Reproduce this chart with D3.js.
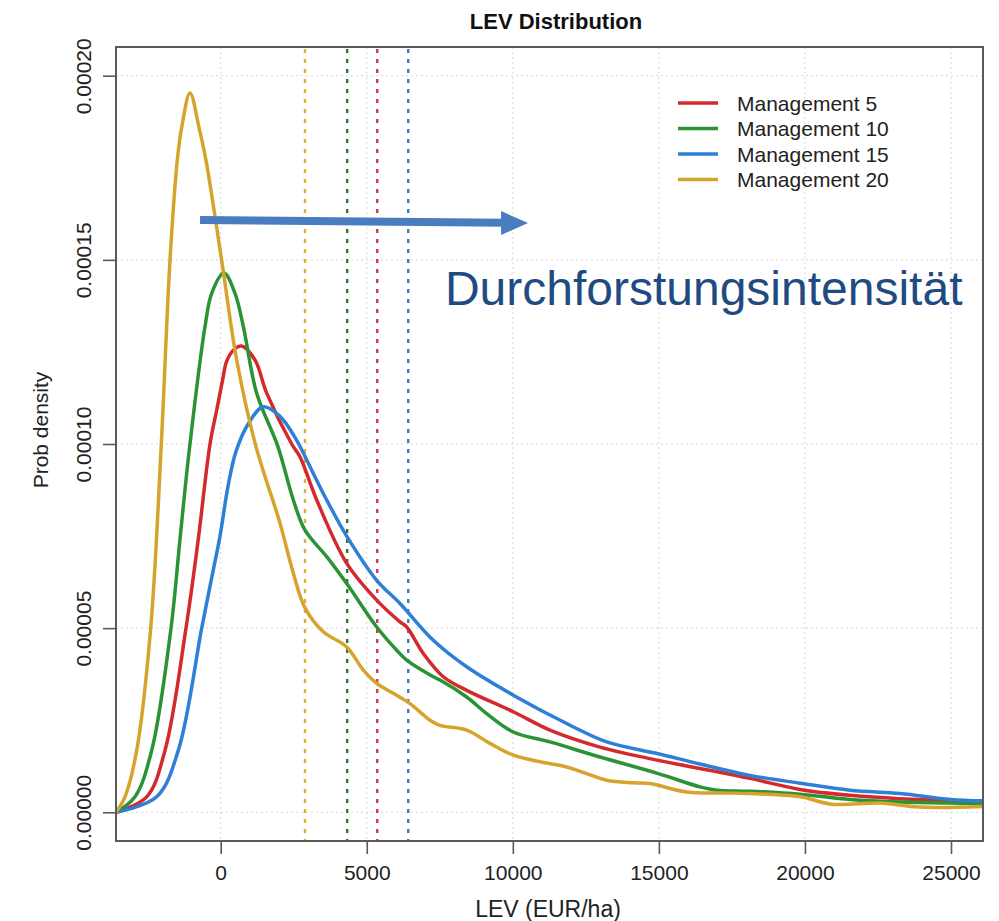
<!DOCTYPE html>
<html>
<head>
<meta charset="utf-8">
<script src="https://cdn.jsdelivr.net/npm/d3@7"></script>
<style>
  body { margin: 0; background: #fff; }
  svg { display: block; }
  text { font-family: "Liberation Sans", Arial, Helvetica, sans-serif; }
</style>
</head>
<body>
<svg id="chart" width="999" height="921"></svg>
<script>
// Density estimates of LEV (EUR/ha) per management variant; density in units of 1e-5
const DENSITY_UNIT = 1e-5;

const seriesNames = ["Management 5", "Management 10", "Management 15", "Management 20"];
const seriesColors = ["#d42a2e", "#2a9434", "#2f7fd6", "#d6a42c"];
const meanColors = ["#c93a55", "#2a7a34", "#3b78c2", "#dcae3c"];

const m5 = [[-3584,0],[-2533,0.42],[-1907,1.68],[-1188,5.0],[-767,7.42],[-366,10.0],[-137,10.92],[68,11.75],[205,12.25],[450,12.56],[718,12.66],[1174,12.28],[1575,11.38],[2430,10.0],[2715,9.65],[3286,8.48],[4313,6.76],[5340,5.76],[6137,5.17],[6367,5.03],[6936,4.31],[7620,3.68],[8419,3.31],[10017,2.73],[11272,2.23],[12984,1.77],[14980,1.41],[16406,1.19],[18118,0.92],[19830,0.62],[21541,0.46],[23253,0.37],[24965,0.31],[26095,0.25]];

const m10 = [[-3584,0],[-2934,0.42],[-2362,1.68],[-1701,5.0],[-1393,7.42],[-1075,9.84],[-537,13.19],[-308,14.09],[113,14.64],[490,14.09],[775,13.19],[1232,11.38],[1950,9.95],[2486,8.48],[2886,7.66],[3628,6.94],[4313,6.21],[5340,5.03],[6024,4.40],[6367,4.13],[7277,3.68],[7506,3.59],[8419,3.13],[9105,2.68],[10017,2.18],[11272,1.91],[12984,1.50],[14980,1.05],[16406,0.69],[16977,0.60],[18118,0.57],[19830,0.49],[21541,0.35],[23253,0.28],[24965,0.25],[26095,0.24]];

const m15 = [[-3584,0],[-2190,0.42],[-1451,1.68],[-650,5.0],[-300,6.4],[-24,7.5],[250,8.85],[524,9.8],[945,10.55],[1458,11.01],[2030,10.75],[2600,10.1],[3170,9.2],[3628,8.48],[4313,7.5],[5340,6.30],[6137,5.67],[7277,4.67],[8419,3.95],[10017,3.18],[11843,2.41],[13213,1.91],[14980,1.59],[16406,1.31],[18118,1.0],[19830,0.79],[21541,0.60],[23253,0.51],[24965,0.35],[26095,0.31]];

const m20 = [[-3584,0],[-3276,0.42],[-2875,1.68],[-2396,5.0],[-2043,9.84],[-1735,15.0],[-1486,17.7],[-1335,18.6],[-1050,19.53],[-743,18.6],[-503,17.7],[30,15.0],[548,12.28],[1200,9.95],[2030,7.85],[2486,6.49],[2886,5.55],[3513,4.90],[4313,4.49],[4883,3.86],[5340,3.50],[5908,3.23],[6480,2.95],[7164,2.50],[7506,2.36],[8419,2.23],[9218,1.87],[10017,1.55],[10930,1.37],[11843,1.23],[12527,1.05],[13213,0.87],[14124,0.80],[14695,0.78],[15950,0.55],[17546,0.52],[19830,0.42],[20900,0.22],[22600,0.25],[23900,0.14],[26095,0.16]];

const seriesData = [m5, m10, m15, m20];

// Mean LEV per management variant (dashed verticals)
const meanLEV = [5359, 4330, 6420, 2886];

const xTicks = [0, 5000, 10000, 15000, 20000, 25000];
const yTicks = [0, 0.00005, 0.0001, 0.00015, 0.0002];
const yTickLabels = ["0.00000", "0.00005", "0.00010", "0.00015", "0.00020"];

const svg = d3.select("#chart");
const plotLeft = 116, plotRight = 983, plotTop = 47, plotBottom = 841;

const x = d3.scaleLinear().domain([-3584, 26095]).range([plotLeft, plotRight]);
const y = d3.scaleLinear().domain([-0.0000078, 0.0002078]).range([plotBottom, plotTop]);

// grid
const grid = svg.append("g").attr("stroke", "#d6d6d6").attr("stroke-width", 1).attr("stroke-dasharray", "2,3");
grid.selectAll("line.gx").data(xTicks).join("line")
  .attr("x1", d => x(d)).attr("x2", d => x(d)).attr("y1", plotTop).attr("y2", plotBottom);
grid.selectAll("line.gy").data(yTicks).join("line")
  .attr("y1", d => y(d)).attr("y2", d => y(d)).attr("x1", plotLeft).attr("x2", plotRight);

// mean lines
svg.append("g").selectAll("line").data(meanLEV).join("line")
  .attr("x1", d => x(d)).attr("x2", d => x(d)).attr("y1", plotTop + 2).attr("y2", plotBottom)
  .attr("stroke", (d, i) => meanColors[i]).attr("stroke-width", 2.4).attr("stroke-dasharray", "4,6");

// density curves
const line = d3.line()
  .x(d => x(d[0])).y(d => y(d[1] * DENSITY_UNIT))
  .curve(d3.curveCatmullRom.alpha(0.5));

svg.append("clipPath").attr("id", "plotclip").append("rect")
  .attr("x", plotLeft).attr("y", plotTop).attr("width", plotRight - plotLeft).attr("height", plotBottom - plotTop);

svg.append("g").attr("clip-path", "url(#plotclip)")
  .selectAll("path").data(seriesData).join("path")
  .attr("d", line).attr("fill", "none")
  .attr("stroke", (d, i) => seriesColors[i]).attr("stroke-width", 3.5)
  .attr("stroke-linejoin", "round").attr("stroke-linecap", "round");

// axes
const axisColor = "#5a5a5a";
const xAxis = svg.append("g").attr("transform", `translate(0,${plotBottom})`)
  .call(d3.axisBottom(x).tickValues(xTicks).tickSize(13).tickPadding(11).tickFormat(d3.format("d")));
const yAxis = svg.append("g").attr("transform", `translate(${plotLeft},0)`)
  .call(d3.axisLeft(y).tickValues(yTicks).tickSize(13).tickFormat((d, i) => yTickLabels[i]));
[xAxis, yAxis].forEach(a => {
  a.select(".domain").remove();
  a.selectAll(".tick line").attr("stroke", axisColor).attr("stroke-width", 1.6);
  a.selectAll(".tick text").attr("fill", "#222").style("font-size", "21px");
});
yAxis.selectAll(".tick text")
  .attr("x", null).attr("dy", null)
  .attr("text-anchor", "middle")
  .attr("transform", "translate(-25,0) rotate(-90)");

// plot frame
svg.append("rect").attr("x", plotLeft).attr("y", plotTop).attr("width", plotRight - plotLeft).attr("height", plotBottom - plotTop)
  .attr("fill", "none").attr("stroke", axisColor).attr("stroke-width", 2);

// titles
svg.append("text").attr("x", 556).attr("y", 29).attr("text-anchor", "middle")
  .style("font-size", "22px").style("font-weight", "bold").attr("fill", "#111").text("LEV Distribution");
svg.append("text").attr("x", 548).attr("y", 917).attr("text-anchor", "middle")
  .style("font-size", "23px").attr("fill", "#222").text("LEV (EUR/ha)");
svg.append("text").attr("transform", "translate(48,430) rotate(-90)").attr("text-anchor", "middle")
  .style("font-size", "21px").attr("fill", "#222").text("Prob density");

// legend
const legend = svg.append("g").attr("transform", "translate(678,103)");
const rows = legend.selectAll("g").data(seriesNames).join("g")
  .attr("transform", (d, i) => `translate(0,${i * 25.5})`);
rows.append("line").attr("x1", 0).attr("x2", 40).attr("y1", 0).attr("y2", 0)
  .attr("stroke", (d, i) => seriesColors[i]).attr("stroke-width", 3.5);
rows.append("text").attr("x", 59).attr("y", 7.5).style("font-size", "21px").attr("fill", "#222").text(d => d);

// thinning-intensity arrow
const arrowStart = [-707, 0.0001608], arrowEnd = [10521, 0.0001600];
const ax0 = x(arrowStart[0]), ay0 = y(arrowStart[1]), ax1 = x(arrowEnd[0]), ay1 = y(arrowEnd[1]);
svg.append("line").attr("x1", ax0).attr("y1", ay0).attr("x2", ax1 - 24).attr("y2", ay1 - 0.3)
  .attr("stroke", "#4a7cc0").attr("stroke-width", 8);
svg.append("path")
  .attr("d", `M${ax1},${ay1} L${ax1 - 27},${ay1 - 12} L${ax1 - 27},${ay1 + 12} Z`)
  .attr("fill", "#4a7cc0");

svg.append("text").attr("x", x(7675)).attr("y", y(0.0001378))
  .style("font-size", "48px").attr("fill", "#1f4b82").text("Durchforstungsintensität");
</script>
</body>
</html>
